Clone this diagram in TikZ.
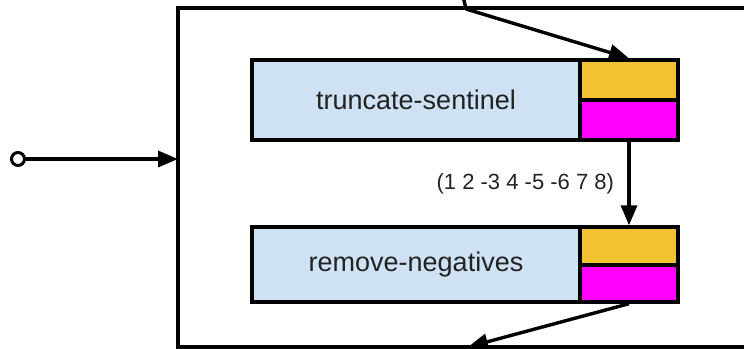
\documentclass[tikz,border=0pt]{standalone}
\usepackage{fontspec}
\setmainfont{Liberation Sans}
\usetikzlibrary{arrows.meta}
\definecolor{boxblue}{HTML}{CFE2F3}
\definecolor{boxyellow}{HTML}{F1C232}
\definecolor{boxmag}{HTML}{FF00FF}
\definecolor{txt}{HTML}{222222}
\begin{document}
\begin{tikzpicture}[x=1pt,y=-1pt,
  conn/.style={line width=3.4pt,-{Triangle[length=20pt,width=16pt]}},
  namebox/.style={draw,line width=3.4pt,fill=boxblue,minimum width=328pt,minimum height=#1,inner sep=0pt,text=txt,font=\fontsize{27}{30}\selectfont},
  portbox/.style={draw,line width=3.4pt,minimum width=98pt,minimum height=#1,inner sep=0pt}]
\useasboundingbox (0,0) rectangle (744,348);
\clip (0,0) rectangle (744,348);
% outer frame
\draw[line width=3.4pt] (760,8) -- (178,8) -- (178,347) -- (760,347);
% first stage
\node[namebox=80pt] (ts) at (416,100) {truncate-sentinel};
\node[portbox=40pt,fill=boxyellow] (tsin) at (629,80) {};
\node[portbox=40pt,fill=boxmag] (tsout) at (629,120) {};
% second stage
\node[namebox=75pt] (rn) at (416,264.5) {remove-negatives};
\node[portbox=38pt,fill=boxyellow] (rnin) at (629,246) {};
\node[portbox=37pt,fill=boxmag] (rnout) at (629,283.5) {};
% input
\coordinate (topin) at (463,-4);
\coordinate (topk) at (466,9);
\coordinate (botk) at (468,347);
\node[circle,draw,line width=3pt,minimum size=13pt,inner sep=0pt] (inp) at (18,159) {};
\coordinate (frameL) at (178,159);
\draw[conn] (inp) -- (frameL);
\draw[line width=3.4pt] (topin) -- (topk);
\draw[conn] (topk) -- (tsin.north);
\draw[conn] (tsout.south) -- node[left=10pt,text=txt,font=\fontsize{22}{24}\selectfont] {(1 2 -3 4 -5 -6 7 8)} (rnin.north);
\draw[conn] (rnout.south) -- (botk);
\end{tikzpicture}
\end{document}
